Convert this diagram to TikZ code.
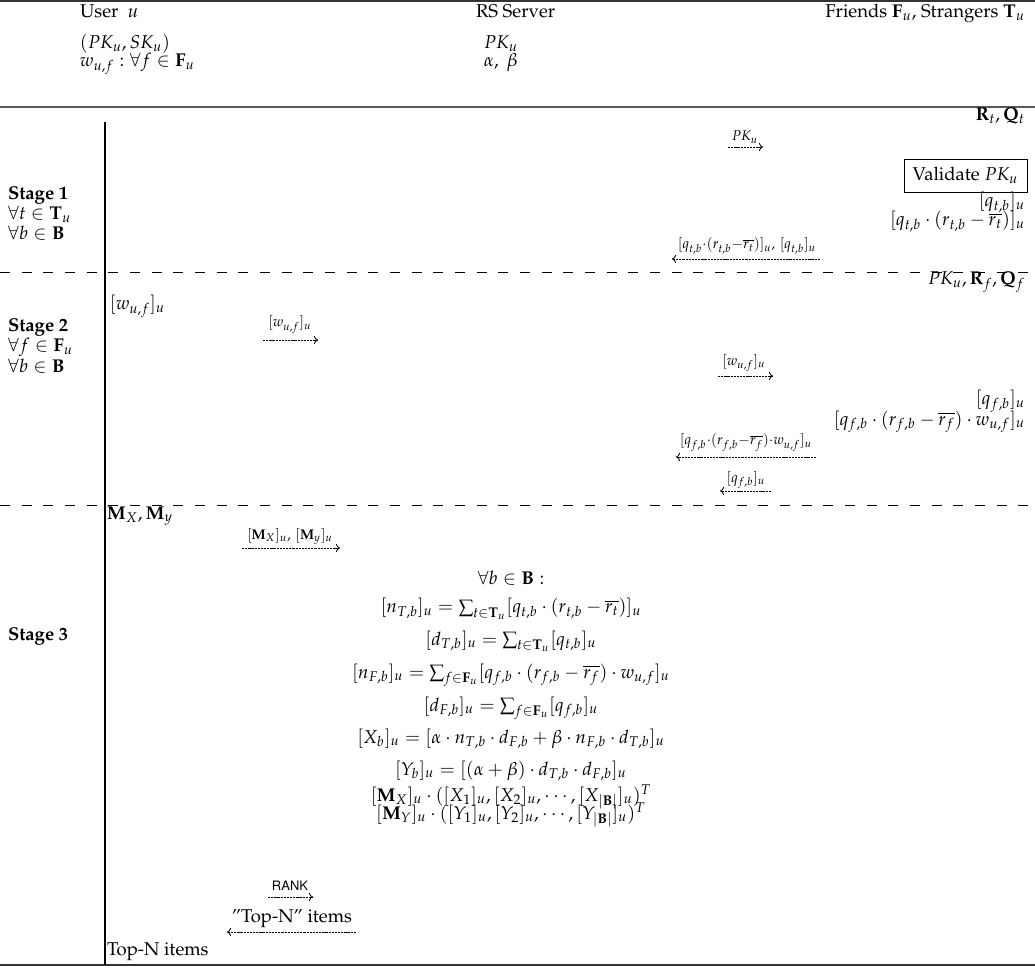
\documentclass[tikz,border=0pt]{standalone}
\usepackage[T1]{fontenc}
\usepackage{mathpazo}
\usetikzlibrary{arrows.meta}
\begin{document}
\begin{tikzpicture}[x=0.54pt,y=-0.54pt,
 every node/.style={inner sep=0pt,outer sep=0pt},
 L/.style={anchor=base west},
 R/.style={anchor=base east},
 C/.style={anchor=base},
 msg/.style={-{Computer Modern Rightarrow[length=2.2pt,width=4.4pt]},line width=0.45pt,dash pattern=on 1.2pt off 0.5pt},
 sep/.style={line width=0.45pt,dash pattern=on 5.4pt off 6.3pt},
 rulethin/.style={line width=0.6pt,black!80},
 rulethick/.style={line width=1.3pt,black!65}]
\useasboundingbox (0,0) rectangle (1035,968);
% rules
\draw[rulethin] (0,1) -- (1035,1);
\draw[rulethick] (0,107) -- (1035,107);
\draw[rulethin] (0,965) -- (1035,965);
\draw[line width=0.6pt] (105,122) -- (105,965);
\draw[sep] (0,272) -- (1035,272);
\draw[sep] (0,505) -- (1035,505);
% header
\node[L] (hu) at (80,18) {User\hspace{0.5em}$u$};
\node[L] (hs) at (476,18) {RS Server};
\node[R] (hf) at (1025,18) {Friends $\mathbf{F}_u$, Strangers $\mathbf{T}_u$};
\node[L] (uk) at (80,49) {$(PK_u, SK_u)$};
\node[L] (uw) at (80,67) {$w_{u,f} : \forall f \in \mathbf{F}_u$};
\node[L] (sk) at (484,49) {$PK_u$};
\node[L] (sab) at (484,67) {$\alpha,\ \beta$};
% stage 1
\node[L,font=\bfseries] (s1) at (8,200) {Stage 1};
\node[L] (s1t) at (8,220) {$\forall t \in \mathbf{T}_u$};
\node[L] (s1b) at (8,240) {$\forall b \in \mathbf{B}$};
\node[R] (rq) at (1025,121) {$\mathbf{R}_t, \mathbf{Q}_t$};
\node[C] (l1) at (745,141) {$\scriptstyle PK_u$};
\coordinate (a1s) at (728,147); \coordinate (a1e) at (763,147);
\draw[msg] (a1s) -- (a1e);
\node[draw,line width=0.5pt,minimum width=123*0.54pt,minimum height=33*0.54pt,anchor=north east] (val) at (1027,159) {Validate $PK_u$};
\node[R] (q1) at (1025,207) {$[q_{t,b}]_u$};
\node[R] (q2) at (1025,226) {$[q_{t,b}\cdot(r_{t,b}-\overline{r_t})]_u$};
\node[C] (l2) at (747,249) {$\scriptstyle [q_{t,b}\cdot(r_{t,b}-\overline{r_t})]_u,\ [q_{t,b}]_u$};
\coordinate (a2s) at (820,259); \coordinate (a2e) at (672,259);
\draw[msg] (a2s) -- (a2e);
\node[R] (pk2) at (1025,285) {$PK_u, \mathbf{R}_f, \mathbf{Q}_f$};
% stage 2
\node[L] (w1) at (110,310) {$[w_{u,f}]_u$};
\node[L,font=\bfseries] (s2) at (8,332) {Stage 2};
\node[L] (s2f) at (8,352) {$\forall f\in\mathbf{F}_u$};
\node[L] (s2b) at (8,372) {$\forall b\in\mathbf{B}$};
\node[C] (l3) at (290,327) {$\scriptstyle [w_{u,f}]_u$};
\coordinate (a3s) at (263,340); \coordinate (a3e) at (318,340);
\draw[msg] (a3s) -- (a3e);
\node[C] (l4) at (744,365) {$\scriptstyle [w_{u,f}]_u$};
\coordinate (a4s) at (718,376); \coordinate (a4e) at (773,376);
\draw[msg] (a4s) -- (a4e);
\node[R] (q3) at (1025,405) {$[q_{f,b}]_u$};
\node[R] (q4) at (1025,425) {$[q_{f,b}\cdot(r_{f,b}-\overline{r_f})\cdot w_{u,f}]_u$};
\node[C] (l5) at (746,445) {$\scriptstyle [q_{f,b}\cdot(r_{f,b}-\overline{r_f})\cdot w_{u,f}]_u$};
\coordinate (a5s) at (816,457); \coordinate (a5e) at (676,457);
\draw[msg] (a5s) -- (a5e);
\node[C] (l6) at (746,482) {$\scriptstyle [q_{f,b}]_u$};
\coordinate (a6s) at (771,491); \coordinate (a6e) at (720,491);
\draw[msg] (a6s) -- (a6e);
% stage 3
\node[L] (mm) at (107,519) {$\mathbf{M}_X, \mathbf{M}_y$};
\node[C] (l7) at (290,539) {$\scriptstyle [\mathbf{M}_X]_u,\ [\mathbf{M}_y]_u$};
\coordinate (a7s) at (242,548); \coordinate (a7e) at (340,548);
\draw[msg] (a7s) -- (a7e);
\node[L,font=\bfseries] (s3) at (8,640) {Stage 3};
\node[C] (fb) at (511,584) {$\forall b\in\mathbf{B}:$};
\node[C] (f1) at (511,613) {$[n_{T,b}]_u = \sum_{t\in\mathbf{T}_u}[q_{t,b}\cdot(r_{t,b}-\overline{r_t})]_u$};
\node[C] (f2) at (511,645) {$[d_{T,b}]_u = \sum_{t\in\mathbf{T}_u}[q_{t,b}]_u$};
\node[C] (f3) at (511,678) {$[n_{F,b}]_u = \sum_{f\in\mathbf{F}_u}[q_{f,b}\cdot(r_{f,b}-\overline{r_f})\cdot w_{u,f}]_u$};
\node[C] (f4) at (511,711) {$[d_{F,b}]_u = \sum_{f\in\mathbf{F}_u}[q_{f,b}]_u$};
\node[C] (f5) at (511,743) {$[X_b]_u = [\alpha\cdot n_{T,b}\cdot d_{F,b}+\beta\cdot n_{F,b}\cdot d_{T,b}]_u$};
\node[C] (f6) at (511,775) {$[Y_b]_u = [(\alpha+\beta)\cdot d_{T,b}\cdot d_{F,b}]_u$};
\node[C] (f7) at (511,801) {$[\mathbf{M}_X]_u\cdot([X_1]_u,[X_2]_u,\cdots,[X_{|\mathbf{B}|}]_u)^T$};
\node[C] (f8) at (511,819) {$[\mathbf{M}_Y]_u\cdot([Y_1]_u,[Y_2]_u,\cdots,[Y_{|\mathbf{B}|}]_u)^T$};
\node[C,font=\scriptsize\fontfamily{phv}\selectfont] (rk) at (290,890) {RANK};
\coordinate (a8s) at (268,897); \coordinate (a8e) at (313,897);
\draw[msg] (a8s) -- (a8e);
\node[C] (tn) at (292,922) {''Top-N'' items};
\coordinate (a9s) at (356,932); \coordinate (a9e) at (227,932);
\draw[msg] (a9s) -- (a9e);
\node[L] (tn2) at (107,955) {Top-N items};
\end{tikzpicture}
\end{document}
